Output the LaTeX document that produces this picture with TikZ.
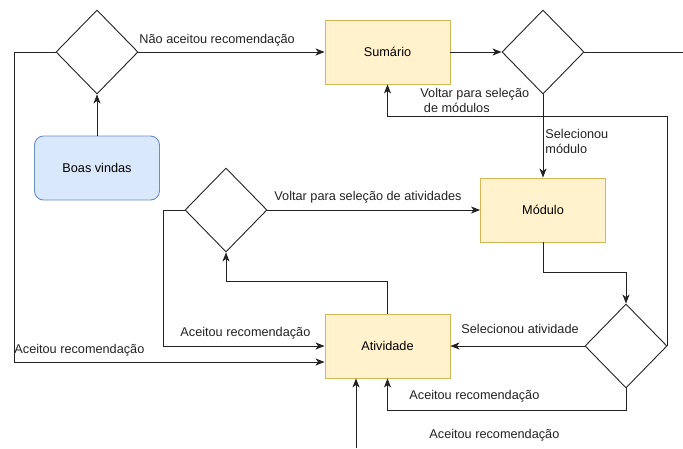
\documentclass[tikz,border=0pt]{standalone}
\usepackage{fontspec}
\setmainfont{Liberation Sans}
\usetikzlibrary{arrows.meta,shapes.geometric,positioning,calc}
\definecolor{amarelo}{HTML}{FFF2CC}
\definecolor{amareloborda}{HTML}{D6B656}
\definecolor{azul}{HTML}{DAE8FC}
\definecolor{azulborda}{HTML}{6C8EBF}
\definecolor{traco}{HTML}{222222}

\begin{document}
\begin{tikzpicture}[x=1pt,y=-1pt,>={Stealth[length=9pt,width=7pt,inset=2.5pt]},line width=0.9pt,
  font=\fontsize{12.7}{15}\selectfont,
  estado/.style={rectangle,draw=amareloborda,fill=amarelo,minimum width=125pt,minimum height=64pt},
  inicio/.style={rectangle,rounded corners=9pt,draw=azulborda,fill=azul,minimum width=125pt,minimum height=64pt},
  decisao/.style={diamond,draw=traco,minimum width=82pt,minimum height=84pt,inner sep=0pt},
  rotulo/.style={inner sep=0pt,anchor=west,text=traco},
  liga/.style={->,draw=traco}]
  \useasboundingbox (0,0) rectangle (683,448);
  \node[decisao] (d1) at (97,52) {};
  \node[inicio] (boas) at (97,168) {Boas vindas};
  \node[estado] (sumario) at (387.5,52) {Sumário};
  \node[decisao] (d2) at (543,52) {};
  \node[estado] (modulo) at (543,210) {Módulo};
  \node[decisao] (d4) at (226,210) {};
  \node[estado] (atividade) at (387.5,346) {Atividade};
  \node[decisao] (d3) at (626,346) {};
  \coordinate (fimA) at (683,52);
  \coordinate (fimB) at (356,448);

  \draw[liga] (boas) -- (d1);
  \draw[liga] (d1.east) -- (sumario.west);
  \draw[liga] (sumario.east) -- (d2.west);
  \draw[draw=traco] (d2.east) -- (fimA);
  \draw[liga] (d2.south) -- (modulo.north);
  \draw[liga] (modulo.south) -- ++(0,30) -| (d3.north);
  \draw[liga] (d3.east) -- ++(0,-230) -| (sumario.south);
  \draw[liga] (d3.west) -- (atividade.east);
  \draw[liga] (d3.south) -- ++(0,22) -| (atividade.south);
  \draw[liga] (atividade.north) -- ++(0,-32) -| (d4.south);
  \draw[liga] (d4.east) -- (modulo.west);
  \draw[liga] (d4.west) -- ++(-21,0) |- (atividade.west);
  \draw[liga] (d1.west) -- ++(-41,0) |- ($(atividade.west)+(0,16)$);
  \draw[liga] (fimB) -- (fimB |- atividade.south);

  \node[rotulo] (r1) at (139,40) {Não aceitou recomendação};
  \node[rotulo,align=left] (r2) at (420,100) {Voltar para seleção\\\ de módulos};
  \node[rotulo,align=left] (r3) at (545,141.5) {Selecionou\\módulo};
  \node[rotulo] (r4) at (274,197) {Voltar para seleção de atividades};
  \node[rotulo] (r5) at (180,333) {Aceitou recomendação};
  \node[rotulo] (r6) at (14,350) {Aceitou recomendação};
  \node[rotulo] (r7) at (461,329) {Selecionou atividade};
  \node[rotulo] (r8) at (409,396) {Aceitou recomendação};
  \node[rotulo] (r9) at (429,435) {Aceitou recomendação};
\end{tikzpicture}
\end{document}
